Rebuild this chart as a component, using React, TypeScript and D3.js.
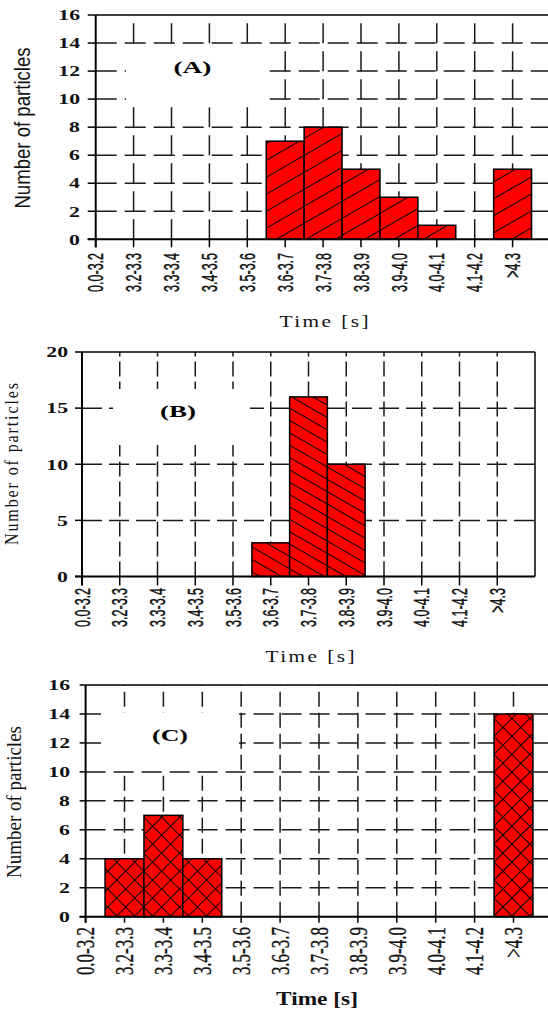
import React from 'react';
import * as d3 from 'd3';

const categories = ["0.0-3.2", "3.2-3.3", "3.3-3.4", "3.4-3.5", "3.5-3.6", "3.6-3.7", "3.7-3.8", "3.8-3.9", "3.9-4.0", "4.0-4.1", "4.1-4.2", ">4.3"];
const countsA = [0, 0, 0, 0, 0, 7, 8, 5, 3, 1, 0, 5];
const countsB = [0, 0, 0, 0, 0, 3, 16, 10, 0, 0, 0, 0];
const countsC = [0, 4, 7, 4, 0, 0, 0, 0, 0, 0, 0, 14];
const yTicksA = [0, 2, 4, 6, 8, 10, 12, 14, 16];
const yTicksB = [0, 5, 10, 15, 20];
const yTicksC = [0, 2, 4, 6, 8, 10, 12, 14, 16];
const panelLabels = ["(A)", "(B)", "(C)"];
const xTitle = "Time [s]";
const yTitle = "Number of particles";

const SANS = "'Liberation Sans', Arial, sans-serif";
const SERIF = "'Liberation Serif', 'Times New Roman', serif";

const cfgA = {
  left: 95.7, step: 37.9, top: 15, bottom: 239.3, yMax: 16, rightBorder: false,
  hDash: "21 8", vDash: "20 8", pattern: "hA",
  yTickLen: 8, xTickLen: 8, yLabelRight: 80,
  xLab: { font: SANS, size: 12.5, sx: 1.7, y0: 253 },
  yTitle: { font: SANS, size: 18.6, sx: 1.16, x: 29.5, cy: 128, len: 0 },
  xTitle: { font: SERIF, size: 17, weight: "normal", cx: 324, base: 327, len: 89, adj: "spacing", sx: 1.25 },
  box: [126, 45, 264, 106], label: { cx: 192.5, base: 73, len: 38 },
};
const cfgB = {
  left: 82, step: 37.75, top: 352, bottom: 576.5, yMax: 20, rightBorder: true,
  hDash: "20 7", vDash: "15 5", pattern: "hB",
  yTickLen: 7, xTickLen: 9, yLabelRight: 68,
  xLab: { font: SANS, size: 12.5, sx: 1.7, y0: 588 },
  yTitle: { font: SERIF, size: 16, sx: 1.15, x: 17.5, cy: 464, len: 162 },
  xTitle: { font: SERIF, size: 17, weight: "normal", cx: 310, base: 662, len: 89, adj: "spacing", sx: 1.25 },
  box: [113, 389, 250, 445], label: { cx: 178, base: 416.5, len: 36 },
};
const cfgC = {
  left: 85.6, step: 38.9, top: 685, bottom: 916.7, yMax: 16, rightBorder: false,
  hDash: "20 8", vDash: "15 6", pattern: "hC",
  yTickLen: 6, xTickLen: 6, yLabelRight: 70,
  xLab: { font: SERIF, size: 17, sx: 1.45, y0: 927 },
  yTitle: { font: SERIF, size: 19, sx: 1.1, x: 21, cy: 802, len: 0 },
  xTitle: { font: SERIF, size: 18, weight: "bold", cx: 317, base: 1005, len: 82, adj: "spacingAndGlyphs", sx: 1 },
  box: [101, 713, 239, 770], label: { cx: 170, base: 740.5, len: 36 },
};

function Panel({ cfg, counts, yTicks, label }: any) {
  const x = d3.scaleLinear().domain([0, 12]).range([cfg.left, cfg.left + 12 * cfg.step]);
  const y = d3.scaleLinear().domain([0, cfg.yMax]).range([cfg.bottom, cfg.top]);
  const step = x(1) - x(0);
  const grid = "#1a1a1a";
  const [bx0, by0, bx1, by1] = cfg.box;
  const xt = cfg.xTitle;
  return (
    <g>
      {yTicks.filter((t: number) => t > 0 && t < cfg.yMax).map((t: number) => (
        <line key={"h" + t} x1={x(0)} x2={x(12)} y1={y(t)} y2={y(t)} stroke={grid} strokeWidth={1.5} strokeDasharray={cfg.hDash} />
      ))}
      {d3.range(1, 12).map((i: number) => (
        <line key={"v" + i} x1={x(i)} x2={x(i)} y1={y(0)} y2={y(cfg.yMax)} stroke={grid} strokeWidth={1.5} strokeDasharray={cfg.vDash} />
      ))}
      <rect x={bx0} y={by0} width={bx1 - bx0} height={by1 - by0} fill="#fff" />
      <text x={cfg.label.cx} y={cfg.label.base} textAnchor="middle" fontFamily={SERIF} fontWeight="bold" fontSize={17}
        textLength={cfg.label.len} lengthAdjust="spacingAndGlyphs" fill="#000">{label}</text>
      {counts.map((c: number, i: number) => c > 0 ? (
        <rect key={"b" + i} x={x(i - 0.5)} width={step} y={y(c)} height={y(0) - y(c)}
          fill={`url(#${cfg.pattern})`} stroke="#000" strokeWidth={1.5} />
      ) : null)}
      <line x1={x(0)} x2={x(12)} y1={y(cfg.yMax)} y2={y(cfg.yMax)} stroke="#000" strokeWidth={1.5} />
      {cfg.rightBorder && <line x1={x(12)} x2={x(12)} y1={y(cfg.yMax)} y2={y(0)} stroke="#000" strokeWidth={1.5} />}
      <line x1={x(0)} x2={x(0)} y1={y(cfg.yMax)} y2={y(0) + cfg.xTickLen} stroke="#000" strokeWidth={2} />
      <line x1={x(0) - cfg.yTickLen} x2={x(12)} y1={y(0)} y2={y(0)} stroke="#000" strokeWidth={2} />
      {yTicks.map((t: number) => (
        <line key={"yt" + t} x1={x(0) - cfg.yTickLen} x2={x(0)} y1={y(t)} y2={y(t)} stroke="#000" strokeWidth={1.5} />
      ))}
      {d3.range(0, 12).map((i: number) => (
        <line key={"xt" + i} x1={x(i)} x2={x(i)} y1={y(0)} y2={y(0) + cfg.xTickLen} stroke="#000" strokeWidth={1.5} />
      ))}
      {yTicks.map((t: number) => (
        <text key={"yl" + t} transform={`translate(${cfg.yLabelRight},${y(t)}) scale(1.45,1)`} textAnchor="end" dy="0.35em"
          fontFamily={SERIF} fontWeight="bold" fontSize={15} fill="#111">{t}</text>
      ))}
      {categories.map((c: string, i: number) => (
        <text key={"xl" + i} transform={`translate(${x(i)},${cfg.xLab.y0}) scale(${cfg.xLab.sx},1) rotate(-90)`}
          textAnchor="end" dy="0.36em" fontFamily={cfg.xLab.font} fontSize={cfg.xLab.size} fill="#111"
          stroke="#111" strokeWidth={0.25}>{c}</text>
      ))}
      <text transform={`translate(${cfg.yTitle.x},${cfg.yTitle.cy}) scale(${cfg.yTitle.sx},1) rotate(-90)`} textAnchor="middle"
        fontFamily={cfg.yTitle.font} fontSize={cfg.yTitle.size} fill="#111"
        {...(cfg.yTitle.len ? { textLength: cfg.yTitle.len } : {})}>{yTitle}</text>
      <text transform={`translate(${xt.cx},${xt.base}) scale(${xt.sx},1)`} textAnchor="middle" fontFamily={xt.font} fontWeight={xt.weight}
        fontSize={xt.size} textLength={xt.len / xt.sx} lengthAdjust={xt.adj} fill="#111">{xTitle}</text>
    </g>
  );
}

export default function App() {
  return (
    <svg width={548} height={1010} style={{ position: 'absolute', left: 0, top: 0, background: '#fff' }}>
      <defs>
        <pattern id="hA" patternUnits="userSpaceOnUse" width={8} height={14.7} patternTransform="rotate(-30)">
          <rect width={8} height={14.7} fill="#ff0000" />
          <line x1={0} x2={8} y1={7.35} y2={7.35} stroke="#000" strokeWidth={1} />
        </pattern>
        <pattern id="hB" patternUnits="userSpaceOnUse" width={8} height={10.7} patternTransform="rotate(30)">
          <rect width={8} height={10.7} fill="#ff0000" />
          <line x1={0} x2={8} y1={5.35} y2={5.35} stroke="#000" strokeWidth={1} />
        </pattern>
        <pattern id="hC" patternUnits="userSpaceOnUse" width={12.7} height={12.7} patternTransform="rotate(45)">
          <rect width={12.7} height={12.7} fill="#ff0000" />
          <line x1={0} x2={12.7} y1={6.35} y2={6.35} stroke="#000" strokeWidth={1} />
          <line x1={6.35} x2={6.35} y1={0} y2={12.7} stroke="#000" strokeWidth={1} />
        </pattern>
      </defs>
      <rect width={548} height={1010} fill="#fff" />
      <Panel cfg={cfgA} counts={countsA} yTicks={yTicksA} label={panelLabels[0]} />
      <Panel cfg={cfgB} counts={countsB} yTicks={yTicksB} label={panelLabels[1]} />
      <Panel cfg={cfgC} counts={countsC} yTicks={yTicksC} label={panelLabels[2]} />
    </svg>
  );
}
